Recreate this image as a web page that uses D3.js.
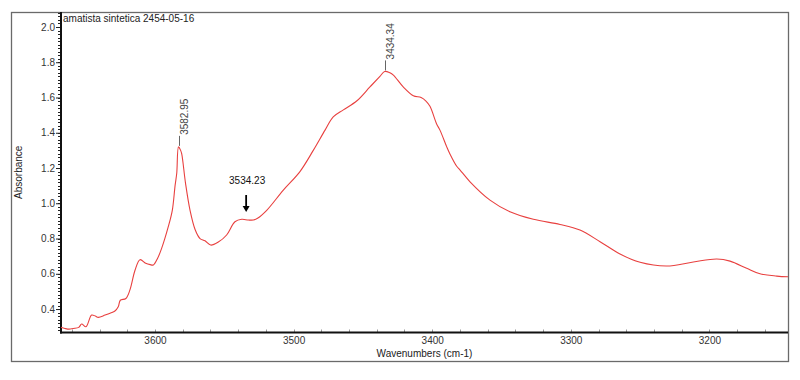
<!DOCTYPE html>
<html>
<head>
<meta charset="utf-8">
<script src="https://cdn.jsdelivr.net/npm/d3@7"></script>
<style>
  html, body { margin: 0; padding: 0; background: #fff; }
  svg { display: block; font-family: "Liberation Sans", Arial, sans-serif; }
</style>
</head>
<body>
<svg id="chart" width="800" height="380"></svg>
<script>
const title = "amatista sintetica 2454-05-16";
const xLabel = "Wavenumbers (cm-1)";
const yLabel = "Absorbance";

const wavenumbers = [
  3667.8, 3665, 3662, 3659, 3655, 3652.9, 3649.8, 3645.7, 3643, 3640.9,
  3636, 3632, 3628.9, 3626.5, 3625, 3621, 3618, 3614.4, 3610.8, 3606.7,
  3603.5, 3601.2, 3598, 3595.2, 3590.4, 3587.5, 3585.5, 3584.3, 3583, 3581.5,
  3580.7, 3577.9, 3574.7, 3571, 3567.5, 3563.9, 3559.8, 3554.3, 3548.3, 3542.3,
  3537.4, 3532.7, 3529, 3526, 3519.4, 3507.4, 3495.4, 3485.8, 3477.3, 3471.4,
  3464.1, 3454.5, 3444.9, 3437.7, 3434.3, 3430.5, 3428, 3420.9, 3413.6, 3408,
  3404.5, 3401.6, 3396.8, 3394.4, 3389.5, 3387.2, 3382.3, 3380, 3372.7, 3358.3,
  3343.9, 3327, 3307.8, 3293.4, 3278.9, 3264.5, 3250, 3230.8, 3211.6, 3194.7,
  3185.1, 3173.1, 3163.5, 3151.4, 3143.3
];
const absorbance = [
  0.296, 0.290, 0.286, 0.290, 0.296, 0.315, 0.300, 0.366, 0.360, 0.353,
  0.366, 0.378, 0.389, 0.413, 0.450, 0.460, 0.510, 0.620, 0.680, 0.660,
  0.652, 0.650, 0.690, 0.744, 0.867, 0.960, 1.100, 1.170, 1.320, 1.300,
  1.280, 1.110, 0.960, 0.850, 0.800, 0.787, 0.763, 0.780, 0.820, 0.895,
  0.909, 0.905, 0.905, 0.915, 0.960, 1.075, 1.180, 1.300, 1.415, 1.490,
  1.530, 1.580, 1.660, 1.720, 1.748, 1.740, 1.727, 1.660, 1.610, 1.600,
  1.580, 1.550, 1.450, 1.415, 1.320, 1.280, 1.210, 1.190, 1.122, 1.018,
  0.952, 0.909, 0.880, 0.848, 0.782, 0.712, 0.665, 0.644, 0.667, 0.684,
  0.672, 0.631, 0.600, 0.587, 0.583
];

const xTicks = [3600, 3500, 3400, 3300, 3200];
const yTicks = [0.4, 0.6, 0.8, 1.0, 1.2, 1.4, 1.6, 1.8, 2.0];

const peakWavenumbers = [3582.95, 3434.34];
const peakAbsorbances = [1.32, 1.748];
const peakLabels = ["3582.95", "3434.34"];

const arrowWavenumber = 3534.23;
const arrowAbsorbance = 0.905;
const arrowLabel = "3534.23";

const svg = d3.select("#chart");

const plot = { left: 61, right: 788, top: 12, bottom: 332.5 };
const x = d3.scaleLinear().domain([3667.8, 3143.3]).range([plot.left, plot.right]);
const y = d3.scaleLinear().domain([0.267, 2.085]).range([plot.bottom, plot.top]);

// outer frame
svg.append("rect")
  .attr("x", 11.5).attr("y", 12.5).attr("width", 777).attr("height", 349)
  .attr("fill", "none").attr("stroke", "#6a6a6a").attr("stroke-width", 1.3);

// clip
svg.append("defs").append("clipPath").attr("id", "clip")
  .append("rect").attr("x", plot.left).attr("y", plot.top)
  .attr("width", plot.right - plot.left).attr("height", plot.bottom - plot.top);

// y minor ticks
const yMinor = d3.range(0.28, 2.081, 0.02).map(v => +v.toFixed(2));
svg.append("g").selectAll("line").data(yMinor).join("line")
  .attr("x1", plot.left - 3).attr("x2", plot.left)
  .attr("y1", d => Math.round(y(d)) + 0.5).attr("y2", d => Math.round(y(d)) + 0.5)
  .attr("stroke", "#222").attr("stroke-width", 1);

// y axis
const yAxis = d3.axisLeft(y).tickValues(yTicks).tickFormat(d3.format(".1f")).tickSize(5).tickSizeOuter(0);
const gy = svg.append("g").attr("transform", `translate(${plot.left},0)`).call(yAxis);
gy.select(".domain").remove();
gy.selectAll(".tick line").attr("stroke", "#222");
gy.selectAll(".tick text").attr("font-size", 10).attr("fill", "#333")
  .attr("font-family", "Liberation Sans, Arial, sans-serif").attr("x", -6);

// x minor ticks (inward)
const xMinor = d3.range(3660, 3143, -20);
svg.append("g").selectAll("line").data(xMinor).join("line")
  .attr("x1", d => Math.round(x(d)) + 0.5).attr("x2", d => Math.round(x(d)) + 0.5)
  .attr("y1", plot.bottom - 3).attr("y2", plot.bottom)
  .attr("stroke", "#999").attr("stroke-width", 1);

// x axis labels
const xAxis = d3.axisBottom(x).tickValues(xTicks).tickFormat(d3.format("d")).tickSize(0).tickSizeOuter(0);
const gx = svg.append("g").attr("transform", `translate(0,${plot.bottom})`).call(xAxis);
gx.select(".domain").remove();
gx.selectAll(".tick text").attr("font-size", 10).attr("fill", "#333")
  .attr("font-family", "Liberation Sans, Arial, sans-serif").attr("y", 4);

// axis lines
svg.append("line").attr("x1", plot.left).attr("x2", plot.left)
  .attr("y1", plot.top).attr("y2", plot.bottom + 1)
  .attr("stroke", "#111").attr("stroke-width", 2);
svg.append("line").attr("x1", plot.left - 1).attr("x2", plot.right)
  .attr("y1", plot.bottom).attr("y2", plot.bottom)
  .attr("stroke", "#111").attr("stroke-width", 2);

// curve
const pts = wavenumbers.map((w, i) => [w, absorbance[i]]);
const line = d3.line().x(d => x(d[0])).y(d => y(d[1])).curve(d3.curveCatmullRom.alpha(0.5));
svg.append("path").datum(pts)
  .attr("clip-path", "url(#clip)")
  .attr("d", line).attr("fill", "none")
  .attr("stroke", "#e8403f").attr("stroke-width", 1.1);

// title
svg.append("text").attr("x", 63).attr("y", 22).attr("font-size", 10).attr("fill", "#222")
  .text(title);

// axis titles
svg.append("text")
  .attr("transform", `translate(22,${(plot.top + plot.bottom) / 2}) rotate(-90)`)
  .attr("text-anchor", "middle").attr("font-size", 10).attr("fill", "#222")
  .text(yLabel);
svg.append("text").attr("x", (plot.left + plot.right) / 2).attr("y", 357)
  .attr("text-anchor", "middle").attr("font-size", 10).attr("fill", "#222")
  .text(xLabel);

// peak labels
peakWavenumbers.forEach((w, i) => {
  const px = Math.round(x(w)) + 0.5;
  const py = y(peakAbsorbances[i]);
  svg.append("line").attr("x1", px).attr("x2", px)
    .attr("y1", py - 1).attr("y2", py - 11)
    .attr("stroke", "#666").attr("stroke-width", 1);
  svg.append("text")
    .attr("transform", `translate(${px + 8},${py - 12}) rotate(-90)`)
    .attr("font-size", 10).attr("fill", "#444")
    .text(peakLabels[i]);
});

// arrow annotation
const ax = x(arrowWavenumber);
const ay = y(arrowAbsorbance);
svg.append("text").attr("x", ax + 1).attr("y", ay - 36)
  .attr("text-anchor", "middle").attr("font-size", 10).attr("fill", "#111")
  .text(arrowLabel);
svg.append("line").attr("x1", ax).attr("x2", ax)
  .attr("y1", ay - 25).attr("y2", ay - 11)
  .attr("stroke", "#000").attr("stroke-width", 1.8);
svg.append("path")
  .attr("d", `M${ax - 3.5},${ay - 14} L${ax + 3.5},${ay - 14} L${ax},${ay - 8} Z`)
  .attr("fill", "#000");
</script>
</body>
</html>
